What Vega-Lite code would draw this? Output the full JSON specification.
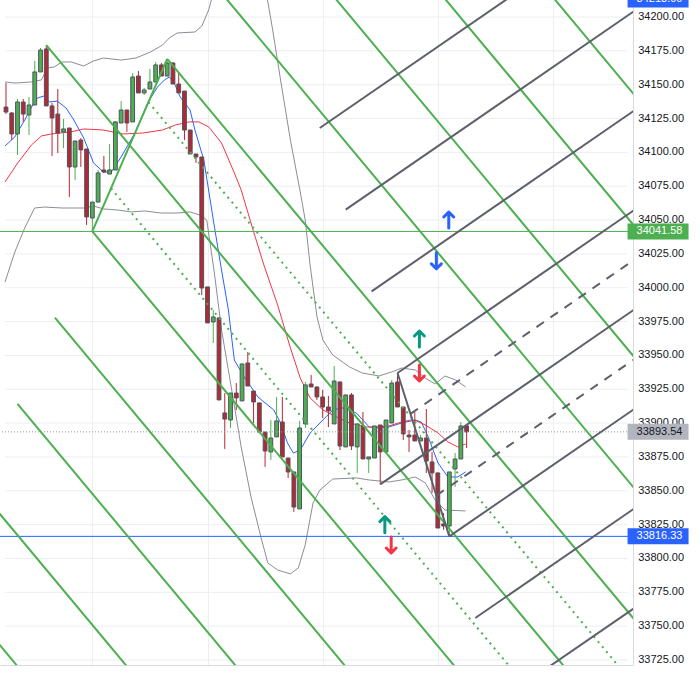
{
  "$schema": "https://vega.github.io/schema/vega-lite/v6.json",
  "width": 633,
  "height": 665,
  "autosize": {"type": "none"},
  "padding": {"left": 0, "top": 0, "right": 67, "bottom": 10},
  "background": "#ffffff",
  "config": {
    "view": {"stroke": null},
    "axis": {"gridColor": "#eceef2", "gridWidth": 1, "domainColor": "#d6d9e0", "labelFont": "Liberation Sans", "labelFontSize": 11, "labelColor": "#131722", "labelOverlap": false}
  },
  "datasets": {
    "candles": [
      {"t":0,"o":34133.5,"h":34151.2,"l":34128.4,"c":34129.8},
      {"t":1,"o":34129.1,"h":34129.8,"l":34109.1,"c":34113.6},
      {"t":2,"o":34113.6,"h":34139.4,"l":34098.1,"c":34137.2},
      {"t":3,"o":34137.2,"h":34139.4,"l":34122.5,"c":34128.3},
      {"t":4,"o":34127.6,"h":34140.9,"l":34112.8,"c":34135.0},
      {"t":5,"o":34135.0,"h":34167.5,"l":34135.0,"c":34159.4},
      {"t":6,"o":34159.4,"h":34177.1,"l":34159.4,"c":34175.6},
      {"t":7,"o":34176.4,"h":34179.3,"l":34134.3,"c":34134.3},
      {"t":8,"o":34134.3,"h":34136.5,"l":34097.3,"c":34125.4},
      {"t":9,"o":34128.3,"h":34146.8,"l":34099.5,"c":34114.3},
      {"t":10,"o":34115.1,"h":34124.7,"l":34103.2,"c":34117.3},
      {"t":11,"o":34118.0,"h":34118.0,"l":34067.0,"c":34089.2},
      {"t":12,"o":34089.2,"h":34108.4,"l":34079.6,"c":34108.4},
      {"t":13,"o":34109.1,"h":34110.6,"l":34089.2,"c":34101.8},
      {"t":14,"o":34102.5,"h":34102.5,"l":34046.4,"c":34052.3},
      {"t":15,"o":34051.5,"h":34063.3,"l":34041.58,"c":34063.3},
      {"t":16,"o":34063.3,"h":34087.0,"l":34063.3,"c":34084.8},
      {"t":17,"o":34087.0,"h":34097.3,"l":34084.8,"c":34085.5},
      {"t":18,"o":34084.0,"h":34106.2,"l":34084.0,"c":34087.0},
      {"t":19,"o":34087.0,"h":34123.2,"l":34087.0,"c":34122.5},
      {"t":20,"o":34121.7,"h":34137.9,"l":34121.7,"c":34131.3},
      {"t":21,"o":34131.3,"h":34131.3,"l":34115.1,"c":34121.7},
      {"t":22,"o":34122.5,"h":34158.6,"l":34122.5,"c":34155.7},
      {"t":23,"o":34156.4,"h":34160.1,"l":34143.9,"c":34143.9},
      {"t":24,"o":34143.9,"h":34147.6,"l":34142.4,"c":34146.1},
      {"t":25,"o":34146.8,"h":34161.6,"l":34146.8,"c":34152.0},
      {"t":26,"o":34152.0,"h":34166.8,"l":34152.0,"c":34164.6},
      {"t":27,"o":34164.6,"h":34166.0,"l":34156.4,"c":34156.4},
      {"t":28,"o":34156.4,"h":34169.0,"l":34156.4,"c":34166.0},
      {"t":29,"o":34166.0,"h":34166.8,"l":34150.5,"c":34150.5},
      {"t":30,"o":34150.5,"h":34159.4,"l":34143.9,"c":34143.9},
      {"t":31,"o":34145.3,"h":34145.3,"l":34109.1,"c":34116.5},
      {"t":32,"o":34116.5,"h":34116.5,"l":34098.8,"c":34098.8},
      {"t":33,"o":34098.8,"h":34098.8,"l":34092.2,"c":34096.6},
      {"t":34,"o":34096.6,"h":34096.6,"l":33994.6,"c":33999.8},
      {"t":35,"o":34000.6,"h":34000.6,"l":33974.0,"c":33974.0},
      {"t":36,"o":33974.7,"h":33983.6,"l":33959.2,"c":33978.4},
      {"t":37,"o":33977.7,"h":33977.7,"l":33917.1,"c":33917.1},
      {"t":38,"o":33907.5,"h":33922.2,"l":33880.9,"c":33903.0},
      {"t":39,"o":33902.3,"h":33922.2,"l":33896.4,"c":33922.2},
      {"t":40,"o":33922.2,"h":33929.6,"l":33909.7,"c":33918.6},
      {"t":41,"o":33916.4,"h":33943.7,"l":33916.4,"c":33943.7},
      {"t":42,"o":33944.4,"h":33952.5,"l":33927.4,"c":33927.4},
      {"t":43,"o":33923.7,"h":33923.7,"l":33900.1,"c":33915.6},
      {"t":44,"o":33914.9,"h":33914.9,"l":33893.4,"c":33893.4},
      {"t":45,"o":33893.4,"h":33893.4,"l":33867.6,"c":33879.4},
      {"t":46,"o":33878.7,"h":33902.3,"l":33872.8,"c":33889.0},
      {"t":47,"o":33889.8,"h":33919.3,"l":33889.8,"c":33901.6},
      {"t":48,"o":33900.8,"h":33919.3,"l":33875.0,"c":33875.0},
      {"t":49,"o":33874.2,"h":33874.2,"l":33859.5,"c":33863.9},
      {"t":50,"o":33863.9,"h":33863.9,"l":33834.4,"c":33838.0},
      {"t":51,"o":33836.6,"h":33901.6,"l":33836.6,"c":33896.4},
      {"t":52,"o":33899.4,"h":33930.4,"l":33896.4,"c":33928.2},
      {"t":53,"o":33928.9,"h":33935.6,"l":33926.7,"c":33926.7},
      {"t":54,"o":33926.7,"h":33926.7,"l":33917.1,"c":33919.3},
      {"t":55,"o":33919.3,"h":33924.5,"l":33903.8,"c":33911.9},
      {"t":56,"o":33911.9,"h":33920.0,"l":33897.1,"c":33909.0},
      {"t":57,"o":33899.4,"h":33942.2,"l":33899.4,"c":33931.1},
      {"t":58,"o":33930.4,"h":33930.4,"l":33880.1,"c":33883.1},
      {"t":59,"o":33882.4,"h":33920.8,"l":33882.4,"c":33920.8},
      {"t":60,"o":33920.8,"h":33922.2,"l":33880.1,"c":33883.1},
      {"t":61,"o":33882.4,"h":33899.4,"l":33863.2,"c":33899.4},
      {"t":62,"o":33897.9,"h":33908.2,"l":33873.5,"c":33873.5},
      {"t":63,"o":33873.5,"h":33875.0,"l":33863.2,"c":33875.0},
      {"t":64,"o":33874.2,"h":33897.9,"l":33874.2,"c":33897.9},
      {"t":65,"o":33898.6,"h":33898.6,"l":33854.7,"c":33878.7},
      {"t":66,"o":33878.7,"h":33902.3,"l":33878.7,"c":33902.3},
      {"t":67,"o":33900.1,"h":33931.9,"l":33900.1,"c":33929.6},
      {"t":68,"o":33930.4,"h":33937.0,"l":33911.9,"c":33911.9},
      {"t":69,"o":33911.9,"h":33911.9,"l":33887.5,"c":33892.0},
      {"t":70,"o":33891.2,"h":33894.9,"l":33878.7,"c":33889.8},
      {"t":71,"o":33891.2,"h":33908.2,"l":33886.8,"c":33886.8},
      {"t":72,"o":33886.8,"h":33891.2,"l":33886.8,"c":33889.0},
      {"t":73,"o":33889.0,"h":33910.4,"l":33863.2,"c":33872.0},
      {"t":74,"o":33871.3,"h":33878.7,"l":33848.4,"c":33863.2},
      {"t":75,"o":33863.2,"h":33863.2,"l":33822.5,"c":33822.5},
      {"t":76,"o":33825.5,"h":33833.6,"l":33821.1,"c":33824.0},
      {"t":77,"o":33824.0,"h":33863.9,"l":33816.33,"c":33863.9},
      {"t":78,"o":33866.1,"h":33877.9,"l":33852.8,"c":33873.5},
      {"t":79,"o":33873.5,"h":33900.8,"l":33873.5,"c":33897.9},
      {"t":80,"o":33897.9,"h":33897.9,"l":33881.6,"c":33893.54}
    ],
    "ticks": [
      {"p":33725},{"p":33750},{"p":33775},{"p":33800},{"p":33825},{"p":33850},{"p":33875},{"p":33900},{"p":33925},{"p":33950},
      {"p":33975},{"p":34000},{"p":34025},{"p":34050},{"p":34075},{"p":34100},{"p":34125},{"p":34150},{"p":34175},{"p":34200}
    ],
    "vgrid": [{"t":15},{"t":35},{"t":55},{"t":75},{"t":95}],
    "ind": [
      {"s":"fast","t":-0.17,"p":34104.7},{"s":"fast","t":1.54,"p":34111.4},{"s":"fast","t":3.25,"p":34123.9},{"s":"fast","t":4.44,"p":34133.5},{"s":"fast","t":5.47,"p":34140.2},{"s":"fast","t":6.67,"p":34141.7},{"s":"fast","t":7.52,"p":34137.2},{"s":"fast","t":8.89,"p":34137.9},{"s":"fast","t":10.43,"p":34132.8},{"s":"fast","t":11.79,"p":34123.9},{"s":"fast","t":13.5,"p":34110.6},{"s":"fast","t":15.21,"p":34092.2},{"s":"fast","t":16.92,"p":34085.5},{"s":"fast","t":18.29,"p":34085.5},{"s":"fast","t":20.0,"p":34096.6},{"s":"fast","t":22.39,"p":34114.3},{"s":"fast","t":24.62,"p":34136.5},{"s":"fast","t":26.32,"p":34148.3},{"s":"fast","t":27.52,"p":34153.5},{"s":"fast","t":28.38,"p":34155.7},{"s":"fast","t":29.23,"p":34151.2},{"s":"fast","t":30.26,"p":34140.9},{"s":"fast","t":31.97,"p":34131.3},{"s":"fast","t":32.82,"p":34116.5},{"s":"fast","t":34.36,"p":34094.4},{"s":"fast","t":36.24,"p":34044.0},{"s":"fast","t":37.44,"p":34013.0},{"s":"fast","t":38.63,"p":33983.6},{"s":"fast","t":39.66,"p":33946.6},{"s":"fast","t":41.37,"p":33934.1},{"s":"fast","t":43.76,"p":33919.3},{"s":"fast","t":46.5,"p":33909.7},{"s":"fast","t":47.69,"p":33900.1},{"s":"fast","t":48.89,"p":33885.3},{"s":"fast","t":49.91,"p":33877.9},{"s":"fast","t":51.11,"p":33880.1},{"s":"fast","t":52.82,"p":33892.7},{"s":"fast","t":55.04,"p":33902.3},{"s":"fast","t":56.75,"p":33909.7},{"s":"fast","t":58.46,"p":33911.2},{"s":"fast","t":60.85,"p":33907.5},{"s":"fast","t":63.08,"p":33897.1},{"s":"fast","t":64.79,"p":33896.4},{"s":"fast","t":66.5,"p":33897.1},{"s":"fast","t":68.72,"p":33900.1},{"s":"fast","t":71.11,"p":33902.3},{"s":"fast","t":72.14,"p":33900.8},{"s":"fast","t":73.33,"p":33889.8},{"s":"fast","t":75.04,"p":33870.5},{"s":"fast","t":76.75,"p":33860.2},{"s":"fast","t":78.46,"p":33860.2},{"s":"fast","t":79.83,"p":33863.9},
      {"s":"slow","t":-0.17,"p":34078.1},{"s":"slow","t":2.05,"p":34092.2},{"s":"slow","t":4.44,"p":34105.5},{"s":"slow","t":6.15,"p":34112.1},{"s":"slow","t":7.86,"p":34113.6},{"s":"slow","t":11.28,"p":34115.1},{"s":"slow","t":13.5,"p":34117.3},{"s":"slow","t":16.92,"p":34116.5},{"s":"slow","t":20.34,"p":34113.6},{"s":"slow","t":23.76,"p":34114.3},{"s":"slow","t":27.18,"p":34116.5},{"s":"slow","t":29.4,"p":34120.2},{"s":"slow","t":31.79,"p":34122.5},{"s":"slow","t":33.5,"p":34122.5},{"s":"slow","t":35.21,"p":34118.8},{"s":"slow","t":37.44,"p":34106.9},{"s":"slow","t":39.66,"p":34084.8},{"s":"slow","t":40.85,"p":34072.2},{"s":"slow","t":42.91,"p":34042.7},{"s":"slow","t":44.79,"p":34016.8},{"s":"slow","t":47.18,"p":33987.3},{"s":"slow","t":49.4,"p":33955.5},{"s":"slow","t":51.11,"p":33933.3},{"s":"slow","t":52.82,"p":33918.6},{"s":"slow","t":55.04,"p":33909.7},{"s":"slow","t":57.44,"p":33904.5},{"s":"slow","t":59.66,"p":33900.1},{"s":"slow","t":62.56,"p":33897.1},{"s":"slow","t":64.27,"p":33897.1},{"s":"slow","t":66.5,"p":33897.9},{"s":"slow","t":68.72,"p":33900.8},{"s":"slow","t":70.26,"p":33902.3},{"s":"slow","t":71.28,"p":33901.6},{"s":"slow","t":72.82,"p":33898.6},{"s":"slow","t":75.04,"p":33892.7},{"s":"slow","t":76.75,"p":33886.1},{"s":"slow","t":78.46,"p":33882.4},{"s":"slow","t":79.83,"p":33884.6},
      {"s":"upper","t":-0.17,"p":34152.0},{"s":"upper","t":1.54,"p":34151.2},{"s":"upper","t":4.44,"p":34152.0},{"s":"upper","t":6.15,"p":34153.5},{"s":"upper","t":7.18,"p":34162.3},{"s":"upper","t":8.38,"p":34163.1},{"s":"upper","t":9.74,"p":34166.8},{"s":"upper","t":11.28,"p":34166.8},{"s":"upper","t":13.5,"p":34163.8},{"s":"upper","t":15.21,"p":34167.5},{"s":"upper","t":16.92,"p":34169.7},{"s":"upper","t":20.0,"p":34168.2},{"s":"upper","t":22.56,"p":34169.7},{"s":"upper","t":25.13,"p":34174.2},{"s":"upper","t":27.18,"p":34179.3},{"s":"upper","t":28.38,"p":34184.5},{"s":"upper","t":29.74,"p":34188.2},{"s":"upper","t":32.82,"p":34188.9},{"s":"upper","t":34.02,"p":34193.4},{"s":"upper","t":35.21,"p":34205.2},{"s":"upper","t":36.58,"p":34227.3},{"s":"upper","t":37.44,"p":34242.1},{"s":"upper","t":40.85,"p":34264.3},{"s":"upper","t":43.42,"p":34249.5},{"s":"upper","t":45.13,"p":34220.0},{"s":"upper","t":46.32,"p":34190.4},{"s":"upper","t":47.69,"p":34153.5},{"s":"upper","t":49.4,"p":34109.1},{"s":"upper","t":51.11,"p":34070.7},{"s":"upper","t":51.97,"p":34050.0},{"s":"upper","t":52.82,"p":34016.8},{"s":"upper","t":54.02,"p":33978.4},{"s":"upper","t":55.04,"p":33961.4},{"s":"upper","t":56.75,"p":33950.3},{"s":"upper","t":59.66,"p":33941.5},{"s":"upper","t":61.88,"p":33937.0},{"s":"upper","t":64.79,"p":33934.8},{"s":"upper","t":67.01,"p":33937.8},{"s":"upper","t":68.72,"p":33940.7},{"s":"upper","t":71.11,"p":33939.2},{"s":"upper","t":72.82,"p":33933.3},{"s":"upper","t":74.53,"p":33928.9},{"s":"upper","t":76.24,"p":33934.8},{"s":"upper","t":78.12,"p":33931.8},{"s":"upper","t":79.83,"p":33926.7},
      {"s":"lower","t":-0.17,"p":34004.2},{"s":"lower","t":1.54,"p":34026.4},{"s":"lower","t":3.25,"p":34044.1},{"s":"lower","t":4.96,"p":34058.9},{"s":"lower","t":6.67,"p":34059.6},{"s":"lower","t":9.74,"p":34058.9},{"s":"lower","t":13.5,"p":34058.9},{"s":"lower","t":15.21,"p":34060.4},{"s":"lower","t":16.92,"p":34058.2},{"s":"lower","t":19.49,"p":34057.4},{"s":"lower","t":21.71,"p":34056.0},{"s":"lower","t":24.1,"p":34056.7},{"s":"lower","t":26.84,"p":34055.2},{"s":"lower","t":29.74,"p":34055.2},{"s":"lower","t":31.97,"p":34056.0},{"s":"lower","t":33.68,"p":34053.7},{"s":"lower","t":34.87,"p":34050.0},{"s":"lower","t":36.24,"p":34009.4},{"s":"lower","t":37.44,"p":33968.8},{"s":"lower","t":39.15,"p":33925.9},{"s":"lower","t":40.85,"p":33882.4},{"s":"lower","t":42.56,"p":33845.4},{"s":"lower","t":44.27,"p":33815.9},{"s":"lower","t":45.47,"p":33796.7},{"s":"lower","t":47.18,"p":33791.5},{"s":"lower","t":49.4,"p":33788.6},{"s":"lower","t":50.77,"p":33793.0},{"s":"lower","t":51.97,"p":33810.0},{"s":"lower","t":53.33,"p":33841.0},{"s":"lower","t":54.53,"p":33850.6},{"s":"lower","t":56.75,"p":33858.7},{"s":"lower","t":60.85,"p":33859.5},{"s":"lower","t":63.08,"p":33858.0},{"s":"lower","t":66.5,"p":33856.5},{"s":"lower","t":68.72,"p":33858.0},{"s":"lower","t":71.11,"p":33860.2},{"s":"lower","t":72.82,"p":33855.8},{"s":"lower","t":74.53,"p":33843.2},{"s":"lower","t":76.24,"p":33835.8},{"s":"lower","t":79.83,"p":33835.1}
    ],
    "fork": [
      {"g":"gs","t1":15,"p1":34041.58,"t2":28,"p2":34169.0},
      {"g":"gs","t1":7,"p1":34179.3,"t2":125,"p2":33577.0},
      {"g":"gs","t1":28,"p1":34169.0,"t2":125,"p2":33673.9},
      {"g":"gs","t1":34.5,"p1":34232.71,"t2":125,"p2":33770.8},
      {"g":"gs","t1":41,"p1":34296.42,"t2":125,"p2":33867.7},
      {"g":"gs","t1":47.5,"p1":34360.13,"t2":125,"p2":33964.6},
      {"g":"gs","t1":54,"p1":34423.84,"t2":125,"p2":34061.5},
      {"g":"gs","t1":15,"p1":34041.58,"t2":125,"p2":33480.1},
      {"g":"gs","t1":8.5,"p1":33977.87,"t2":125,"p2":33383.2},
      {"g":"gs","t1":2,"p1":33914.16,"t2":125,"p2":33286.4},
      {"g":"gs","t1":-4.5,"p1":33850.45,"t2":125,"p2":33189.5},
      {"g":"gs","t1":-11,"p1":33786.74,"t2":125,"p2":33092.6},
      {"g":"gd","t1":24.75,"p1":34137.15,"t2":125,"p2":33625.5},
      {"g":"gd","t1":18.25,"p1":34073.44,"t2":125,"p2":33528.6},
      {"g":"ks","t1":68,"p1":33937.0,"t2":77,"p2":33816.33},
      {"g":"ks","t1":65,"p1":33854.7,"t2":125,"p2":34030.42},
      {"g":"ks","t1":68,"p1":33937.0,"t2":125,"p2":34103.94},
      {"g":"ks","t1":63.5,"p1":33997.34,"t2":125,"p2":34177.46},
      {"g":"ks","t1":59,"p1":34057.67,"t2":125,"p2":34250.96},
      {"g":"ks","t1":54.5,"p1":34118.01,"t2":125,"p2":34324.48},
      {"g":"ks","t1":77,"p1":33816.33,"t2":125,"p2":33956.91},
      {"g":"ks","t1":81.5,"p1":33756.0,"t2":125,"p2":33883.4},
      {"g":"ks","t1":86,"p1":33695.66,"t2":125,"p2":33809.88},
      {"g":"kd","t1":70.25,"p1":33906.83,"t2":125,"p2":34067.18},
      {"g":"kd","t1":74.75,"p1":33846.5,"t2":125,"p2":33993.67}
    ],
    "hlines": [
      {"p":34041.58,"k":"green"},
      {"p":33816.33,"k":"blue"},
      {"p":33893.54,"k":"last"}
    ],
    "arrows": [
      {"t":76.9,"p":34050.0,"dir":"up","k":"blue"},
      {"t":74.75,"p":34019.9,"dir":"down","k":"blue"},
      {"t":71.8,"p":33962.1,"dir":"up","k":"teal"},
      {"t":71.8,"p":33937.0,"dir":"down","k":"red"},
      {"t":65.8,"p":33825.0,"dir":"up","k":"teal"},
      {"t":66.9,"p":33810.0,"dir":"down","k":"red"}
    ],
    "tags": [
      {"p":34213.0,"label":"34213.00","k":"blue"},
      {"p":34041.58,"label":"34041.58","k":"green"},
      {"p":33893.54,"label":"33893.54","k":"last"},
      {"p":33816.33,"label":"33816.33","k":"blue"}
    ]
  },
  "layer": [
    {
      "data": {"name": "ticks"},
      "mark": {"type": "rule", "clip": true, "strokeWidth": 1, "color": "#eceef2"},
      "encoding": {
        "x": {"datum": -0.17, "type": "quantitative", "title": null, "scale": {"domain": [-0.17, 108.03], "nice": false, "zero": false},
              "axis": {"orient": "bottom", "values": [15, 35, 55, 75, 95], "labels": false, "ticks": false, "title": null, "grid": true, "domain": true}},
        "x2": {"datum": 108.03},
        "y": {"field": "p", "type": "quantitative", "title": null, "scale": {"domain": [33721.3, 34212.56], "nice": false, "zero": false},
              "axis": {"orient": "right", "values": [34212.56], "labels": false, "ticks": false, "grid": false, "title": null, "domain": true}}
      }
    },
    {
      "data": {"name": "ticks"},
      "mark": {"type": "text", "font": "Liberation Sans", "fontSize": 11, "align": "left", "baseline": "middle", "color": "#131722"},
      "encoding": {
        "x": {"datum": 109.8, "type": "quantitative", "title": null},
        "y": {"field": "p", "type": "quantitative", "title": null},
        "text": {"field": "p", "format": ".2f"}
      }
    },
    {
      "data": {"name": "ind"},
      "mark": {"type": "line", "clip": true, "strokeWidth": 1},
      "encoding": {
        "x": {"field": "t", "type": "quantitative", "title": null},
        "y": {"field": "p", "type": "quantitative", "title": null},
        "detail": {"field": "s"},
        "color": {"field": "s", "type": "nominal", "scale": {"domain": ["fast", "slow", "upper", "lower"], "range": ["#2962ff", "#f23645", "#8a8d96", "#8a8d96"]}, "legend": null}
      }
    },
    {
      "data": {"name": "candles"},
      "mark": {"type": "rule", "clip": true, "strokeWidth": 1},
      "encoding": {
        "x": {"field": "t", "type": "quantitative", "title": null},
        "y": {"field": "l", "type": "quantitative", "title": null},
        "y2": {"field": "h"},
        "color": {"condition": {"test": "datum.c < datum.o", "value": "#b22833"}, "value": "#4caf50"}
      }
    },
    {
      "data": {"name": "candles"},
      "mark": {"type": "bar", "clip": true, "width": 3.8, "stroke": "#50535e", "strokeWidth": 1},
      "encoding": {
        "x": {"field": "t", "type": "quantitative", "title": null},
        "y": {"field": "o", "type": "quantitative", "title": null},
        "y2": {"field": "c"},
        "color": {"condition": {"test": "datum.c < datum.o", "value": "#b22833"}, "value": "#4caf50"}
      }
    },
    {
      "data": {"name": "hlines"},
      "transform": [{"filter": "datum.k == 'green'"}],
      "mark": {"type": "rule", "clip": true, "strokeWidth": 1, "color": "#4caf50"},
      "encoding": {
        "y": {"field": "p", "type": "quantitative", "title": null}
      }
    },
    {
      "data": {"name": "hlines"},
      "transform": [{"filter": "datum.k == 'blue'"}],
      "mark": {"type": "rule", "clip": true, "strokeWidth": 1, "color": "#2962ff"},
      "encoding": {
        "y": {"field": "p", "type": "quantitative", "title": null}
      }
    },
    {
      "data": {"name": "hlines"},
      "transform": [{"filter": "datum.k == 'last'"}],
      "mark": {"type": "rule", "clip": true, "strokeWidth": 1, "color": "#9598a1", "strokeDash": [1, 2]},
      "encoding": {
        "y": {"field": "p", "type": "quantitative", "title": null}
      }
    },
    {
      "data": {"name": "fork"},
      "transform": [{"filter": "datum.g == 'gs'"}],
      "mark": {"type": "rule", "clip": true, "strokeWidth": 2, "color": "#4caf50"},
      "encoding": {
        "x": {"field": "t1", "type": "quantitative", "title": null},
        "y": {"field": "p1", "type": "quantitative", "title": null},
        "x2": {"field": "t2"},
        "y2": {"field": "p2"}
      }
    },
    {
      "data": {"name": "fork"},
      "transform": [{"filter": "datum.g == 'gd'"}],
      "mark": {"type": "rule", "clip": true, "strokeWidth": 2, "color": "#4caf50", "strokeDash": [2, 4.5]},
      "encoding": {
        "x": {"field": "t1", "type": "quantitative", "title": null},
        "y": {"field": "p1", "type": "quantitative", "title": null},
        "x2": {"field": "t2"},
        "y2": {"field": "p2"}
      }
    },
    {
      "data": {"name": "fork"},
      "transform": [{"filter": "datum.g == 'ks'"}],
      "mark": {"type": "rule", "clip": true, "strokeWidth": 2, "color": "#5d606b"},
      "encoding": {
        "x": {"field": "t1", "type": "quantitative", "title": null},
        "y": {"field": "p1", "type": "quantitative", "title": null},
        "x2": {"field": "t2"},
        "y2": {"field": "p2"}
      }
    },
    {
      "data": {"name": "fork"},
      "transform": [{"filter": "datum.g == 'kd'"}],
      "mark": {"type": "rule", "clip": true, "strokeWidth": 2, "color": "#5d606b", "strokeDash": [9, 8]},
      "encoding": {
        "x": {"field": "t1", "type": "quantitative", "title": null},
        "y": {"field": "p1", "type": "quantitative", "title": null},
        "x2": {"field": "t2"},
        "y2": {"field": "p2"}
      }
    },
    {
      "data": {"name": "arrows"},
      "mark": {"type": "point", "filled": false, "strokeWidth": 3, "size": 256, "strokeCap": "round", "strokeJoin": "round", "opacity": 1},
      "encoding": {
        "x": {"field": "t", "type": "quantitative", "title": null},
        "y": {"field": "p", "type": "quantitative", "title": null},
        "shape": {"field": "dir", "type": "nominal", "scale": {"domain": ["up", "down"], "range": ["M0,1L0,-1M-0.62,-0.38L0,-1L0.62,-0.38", "M0,-1L0,1M-0.62,0.38L0,1L0.62,0.38"]}, "legend": null},
        "stroke": {"field": "k", "type": "nominal", "scale": {"domain": ["blue", "teal", "red"], "range": ["#2962ff", "#089981", "#f23645"]}, "legend": null}
      }
    },
    {
      "data": {"name": "tags"},
      "mark": {"type": "point", "filled": true, "size": 3721, "opacity": 1, "shape": "M-1,-0.262L1,-0.262L1,0.262L-1,0.262Z"},
      "encoding": {
        "x": {"datum": 113.25, "type": "quantitative", "title": null},
        "y": {"field": "p", "type": "quantitative", "title": null},
        "fill": {"field": "k", "type": "nominal", "scale": {"domain": ["blue", "green", "last"], "range": ["#2962ff", "#4caf50", "#b2b5be"]}, "legend": null}
      }
    },
    {
      "data": {"name": "tags"},
      "mark": {"type": "text", "font": "Liberation Sans", "fontSize": 11, "align": "center", "baseline": "middle"},
      "encoding": {
        "x": {"datum": 113.5, "type": "quantitative", "title": null},
        "y": {"field": "p", "type": "quantitative", "title": null},
        "text": {"field": "label"},
        "color": {"condition": {"test": "datum.k == 'last'", "value": "#131722"}, "value": "#ffffff"}
      }
    }
  ]
}
